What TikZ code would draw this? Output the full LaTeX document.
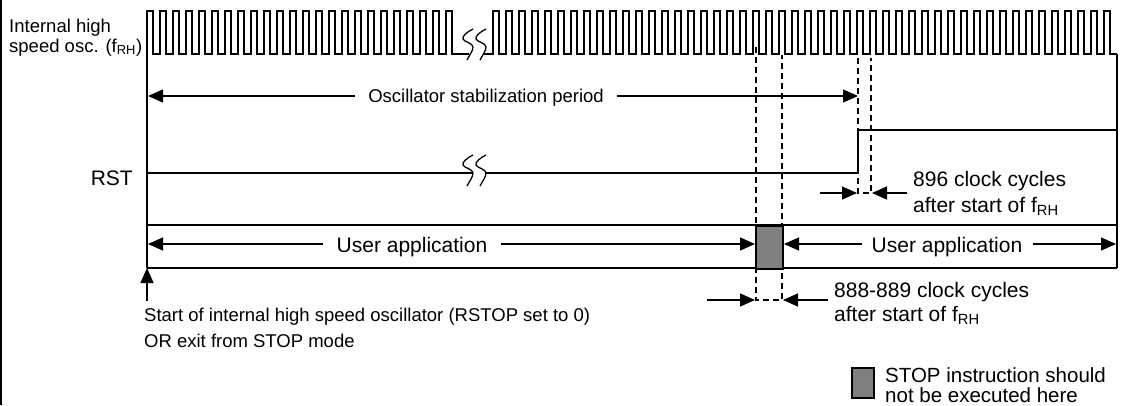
\documentclass[tikz,border=0pt]{standalone}
\usepackage{fontspec}
\setmainfont{Liberation Sans}
\usetikzlibrary{positioning,arrows.meta}

\tikzset{
  clk/.style={line width=1.3pt},
  sig/.style={line width=2pt},
  rail/.style={line width=1.3pt},
  guide/.style={line width=1.5pt,dash pattern=on 6pt off 4pt},
  arr/.style={line width=1.4pt,-{Triangle[length=15pt,width=13pt]}},
  sm/.style={font=\fontsize{18.5}{20}\selectfont,inner sep=0pt,align=left},
  lg/.style={font=\fontsize{21}{26}\selectfont,inner sep=0pt,align=left},
  stopbox/.style={draw,line width=2pt,fill=gray,inner sep=0pt},
  brk/.pic={
    \foreach \dx in {0,13}
      \draw[line width=1.3pt,shift={(\dx,0)}] (0,-18) .. controls (-6,-15) and (-11,-11) .. (-10,-8)
        .. controls (-9,-5) and (0,-4) .. (0,0) .. controls (0,4) and (-4,9) .. (-6,13);
  }
}

\begin{document}
\begin{tikzpicture}[x=1pt,y=-1pt]
  \useasboundingbox (0,0) rectangle (1122,405);
  \draw[line width=2.5pt] (1,0) -- (1,405);

  \coordinate (t0) at (147,54);
  \coordinate (t1) at (1117,54);
  \coordinate (b0) at (147,268);
  \coordinate (b1) at (1117,268);

  % clock
  \draw[clk] (t0) \foreach \k in {1,...,24}{ -- ++(0,-43) -- ++(6,0) -- ++(0,43) -- ++(7,0)} -- (469,54);
  \pic at (473,47) {brk};
  \draw[clk] (484,54) -- (493,54) \foreach \k in {1,...,48}{ -- ++(0,-43) -- ++(6,0) -- ++(0,43) -- ++(7,0)};

  \node[sm,anchor=base west] (osc) at (9,52) {Internal high\\speed osc. (f\textsubscript{RH})};
  \node[lg,anchor=base east] (rst) at (133,185) {RST};

  \draw[rail] (t0) -- (b0);
  \draw[rail] (t1) -- (b1);
  \draw[rail] (147,225) -- (1117,225);
  \draw[rail] (b0) -- (b1);

  % RST line
  \draw[sig] (147,173) -- (473,173);
  \pic at (473,173) {brk};
  \draw[sig] (486,173) -- (858,173) -- (858,130) -- (1117,130);

  \draw[guide] (756,47) -- (756,300) -- (782,300) -- (782,55);
  \draw[guide] (858,58) -- (858,193) -- (871,193) -- (871,58);

  \node[stopbox,anchor=north west,minimum width=27pt,minimum height=43pt] (stop) at (755,225) {};

  \node[sm,anchor=base,inner xsep=13pt] (stab) at (486,102) {Oscillator stabilization period};
  \coordinate (stabL) at (148,96);
  \coordinate (stabR) at (858,96);
  \draw[arr] (stab.west |- stabL) -- (stabL);
  \draw[arr] (stab.east |- stabR) -- (stabR);

  \node[lg,anchor=base,inner xsep=14pt] (app1) at (412,252) {User application};
  \node[lg,anchor=base,inner xsep=10pt] (app2) at (947,252) {User application};
  \coordinate (appL) at (148,244);
  \coordinate (appR) at (1116,244);
  \draw[arr] (app1.west |- appL) -- (appL);
  \draw[arr] (app1.east |- appL) -- (stop.west |- appL);
  \draw[arr] (app2.west |- appR) -- (stop.east |- appR);
  \draw[arr] (app2.east |- appR) -- (appR);

  % cycle counts
  \node[lg,anchor=base west] (c896) at (913,212) {896 clock cycles\\after start of f\textsubscript{RH}};
  \coordinate (p896a) at (820,193);
  \coordinate (p896b) at (907,193);
  \draw[arr] (p896a) -- (857,193);
  \draw[arr] (p896b) -- (872,193);

  \node[lg,anchor=base west,font=\fontsize{21}{24}\selectfont] (c888) at (834,321) {888-889 clock cycles\\after start of f\textsubscript{RH}};
  \coordinate (p888a) at (707,300);
  \coordinate (p888b) at (828,300);
  \draw[arr] (p888a) -- (755,300);
  \draw[arr] (p888b) -- (783,300);

  \node[sm,anchor=base west,font=\fontsize{18.5}{26}\selectfont] (start) at (144,347) {Start of internal high speed oscillator (RSTOP set to 0)\\OR exit from STOP mode};
  \coordinate (s0) at (147,301);
  \draw[arr] (s0) -- (b0);

  % legend
  \node[stopbox,minimum width=22pt,minimum height=30pt] (legbox) at (863,383) {};
  \node[sm,anchor=base west,font=\fontsize{20.5}{20}\selectfont] (legtxt) at (885,402) {STOP instruction should\\not be executed here};
\end{tikzpicture}
\end{document}
